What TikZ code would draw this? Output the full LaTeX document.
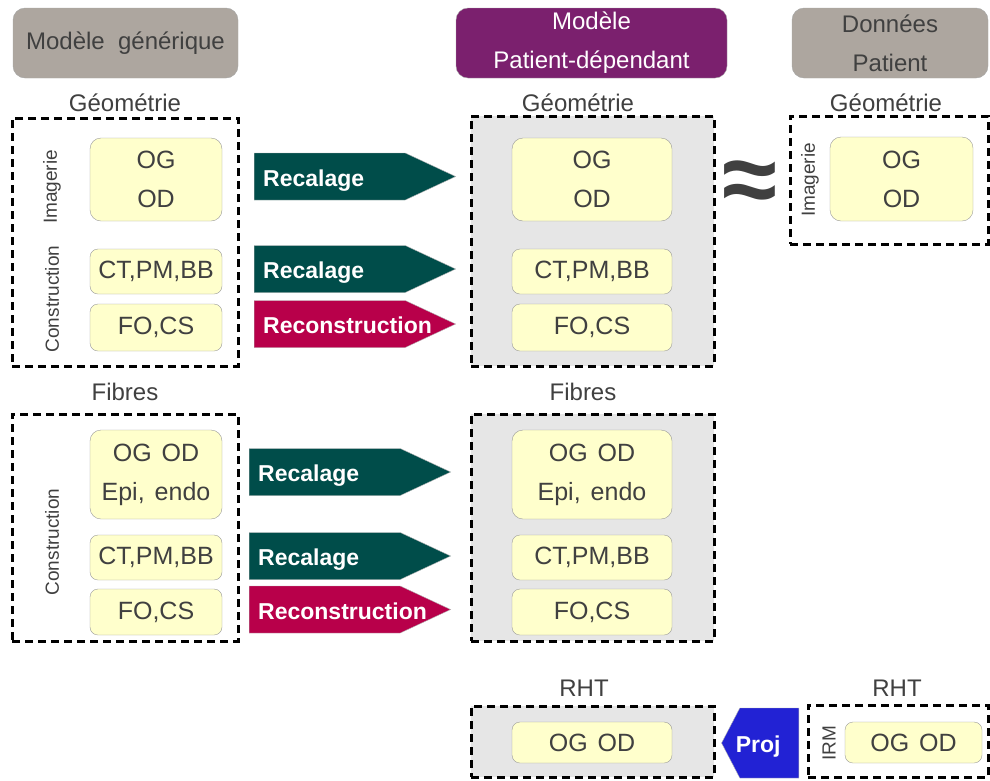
\documentclass[tikz,border=0pt]{standalone}
\usepackage{fontspec}
\setmainfont{Liberation Sans}
\usetikzlibrary{shapes.symbols}
\definecolor{taupe}{RGB}{173,166,159}
\definecolor{purp}{RGB}{123,32,110}
\definecolor{teal}{RGB}{0,77,74}
\definecolor{crim}{RGB}{184,0,74}
\definecolor{projblue}{RGB}{34,34,212}
\definecolor{ylw}{RGB}{255,255,204}
\definecolor{lgray}{RGB}{230,230,230}
\definecolor{txt}{RGB}{64,64,64}
\begin{document}
\begin{tikzpicture}[x=1pt,y=-1pt,
  hdr/.style={rounded corners=12pt, draw=gray!70, align=center, inner sep=0pt,
    font=\fontsize{24}{39}\selectfont},
  dbox/.style={draw=black, line width=3pt, dash pattern=on 8pt off 5pt, inner sep=0pt},
  ybox/.style={rounded corners=11pt, draw=gray!80, fill=ylw, text=txt, align=center, inner sep=0pt,
    font=\fontsize{25}{39}\selectfont},
  lbl/.style={text=txt, font=\fontsize{24}{28}\selectfont, inner sep=0pt},
  rlbl/.style={text=txt, font=\fontsize{19}{22}\selectfont, inner sep=0pt, rotate=90},
  arr/.style={signal, signal to=east, signal pointer angle=50, draw=gray!60, text=white,
    anchor=west, minimum height=47pt, text width=133pt, inner xsep=9pt, inner ysep=0pt, align=left,
    text height=22pt, text depth=2.5pt,
    font=\fontsize{23}{27}\selectfont\bfseries}
]
\useasboundingbox (0,0) rectangle (990,780);

% headers
\node[hdr, fill=taupe, text=txt, minimum width=225pt, minimum height=70pt] (h1) at (125.5,43) {Modèle\ \ générique};
\node[hdr, fill=purp, text=white, minimum width=271pt, minimum height=70pt] (h2) at (591.5,43) {Modèle\\Patient-dépendant};
\node[hdr, fill=taupe, text=txt, minimum width=196pt, minimum height=70pt] (h3) at (890,43) {Données\\Patient};

% labels
\node[lbl] (lg1) at (125,103) {Géométrie};
\node[lbl] (lg2) at (578,103) {Géométrie};
\node[lbl] (lg3) at (886,103) {Géométrie};
\node[lbl] (lf1) at (125,392) {Fibres};
\node[lbl] (lf2) at (583,392) {Fibres};
\node[lbl] (lr1) at (584,688) {RHT};
\node[lbl] (lr2) at (897,688) {RHT};

% dashed containers
\node[dbox, minimum width=226pt, minimum height=248pt] (g1) at (125,242) {};
\node[dbox, fill=lgray, minimum width=243pt, minimum height=250pt] (g2) at (592.5,241) {};
\node[dbox, minimum width=198pt, minimum height=128pt] (g3) at (889,180) {};
\node[dbox, minimum width=226pt, minimum height=227pt] (f1) at (125,527.5) {};
\node[dbox, fill=lgray, minimum width=243pt, minimum height=227pt] (f2) at (592.5,527.5) {};
\node[dbox, fill=lgray, minimum width=243pt, minimum height=71pt] (r1) at (592.5,741.5) {};
\node[dbox, minimum width=180pt, minimum height=72pt] (r2) at (898,741) {};

% rotated labels
\node[rlbl] (im1) at (52,187) {Imagerie};
\node[rlbl] (co1) at (52,299) {Construction};
\node[rlbl] (im3) at (810,180) {Imagerie};
\node[rlbl] (co2) at (52,542) {Construction};
\node[rlbl] (irm) at (829,743) {IRM};

% yellow boxes - geometry
\node[ybox, minimum width=132pt, minimum height=83pt] (ga1) at (156,179.5) {OG\\OD};
\node[ybox, rounded corners=8pt, minimum width=132pt, minimum height=45pt] (gb1) at (156,271.5) {CT,PM,BB};
\node[ybox, rounded corners=8pt, minimum width=132pt, minimum height=47pt] (gc1) at (156,327.5) {FO,CS};
\node[ybox, minimum width=160pt, minimum height=83pt] (ga2) at (592,179.5) {OG\\OD};
\node[ybox, rounded corners=8pt, minimum width=160pt, minimum height=45pt] (gb2) at (592,271.5) {CT,PM,BB};
\node[ybox, rounded corners=8pt, minimum width=160pt, minimum height=47pt] (gc2) at (592,327.5) {FO,CS};
\node[ybox, minimum width=143pt, minimum height=84pt] (ga3) at (901.5,179) {OG\\OD};

% yellow boxes - fibres
\node[ybox, minimum width=132pt, minimum height=89pt] (fa1) at (156,474.5) {OG\hspace{0.4em}OD\\Epi,\hspace{0.4em}endo};
\node[ybox, rounded corners=8pt, minimum width=132pt, minimum height=45pt] (fb1) at (156,557.5) {CT,PM,BB};
\node[ybox, rounded corners=8pt, minimum width=132pt, minimum height=46pt] (fc1) at (156,612) {FO,CS};
\node[ybox, minimum width=160pt, minimum height=89pt] (fa2) at (592,474.5) {OG\hspace{0.4em}OD\\Epi,\hspace{0.4em}endo};
\node[ybox, rounded corners=8pt, minimum width=160pt, minimum height=45pt] (fb2) at (592,557.5) {CT,PM,BB};
\node[ybox, rounded corners=8pt, minimum width=160pt, minimum height=46pt] (fc2) at (592,612) {FO,CS};

% RHT
\node[ybox, rounded corners=8pt, minimum width=160pt, minimum height=41pt] (ra1) at (592,742.5) {OG\hspace{0.4em}OD};
\node[ybox, rounded corners=8pt, minimum width=137pt, minimum height=41pt] (ra2) at (913.5,742.5) {OG\hspace{0.4em}OD};

% arrows
\node[arr, fill=teal] (a1) at (254,176.5) {Recalage};
\node[arr, fill=teal] (a2) at (254,269) {Recalage};
\node[arr, fill=crim] (a3) at (254,324) {Reconstruction};
\node[arr, fill=teal] (a4) at (249,472) {Recalage};
\node[arr, fill=teal] (a5) at (249,556) {Recalage};
\node[arr, fill=crim] (a6) at (249,609.5) {Reconstruction};

% Proj
\node[signal, signal to=west, signal pointer angle=125, fill=projblue, draw=gray!60, text=white,
  minimum height=70pt, text width=45pt, align=left, inner xsep=7pt, inner ysep=0pt, anchor=east,
  text height=22pt, text depth=2.5pt,
  font=\fontsize{23}{27}\selectfont\bfseries] (proj) at (799,743) {\hspace*{-11pt}Proj};

% approx
\node[text=txt, font=\fontsize{100}{100}\selectfont\bfseries, inner sep=0pt] (approx) at (750,187) {≈};
\end{tikzpicture}
\end{document}
